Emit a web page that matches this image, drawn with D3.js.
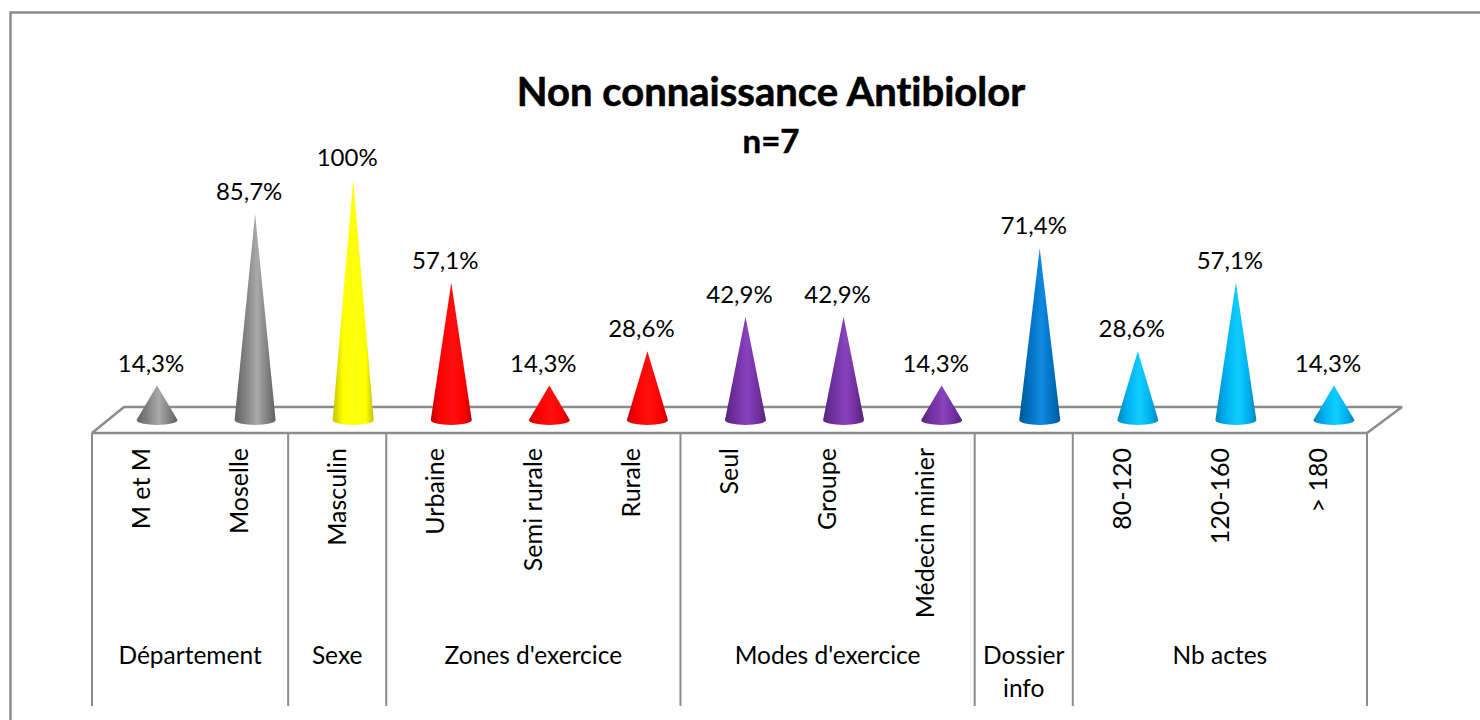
<!DOCTYPE html>
<html>
<head>
<meta charset="utf-8">
<script src="https://cdn.jsdelivr.net/npm/d3@7"></script>
<style>
html, body { margin: 0; padding: 0; background: #fff; overflow: hidden; }
text { font-family: Lato, "Open Sans", sans-serif; fill: #000; font-variant-ligatures: none; }
</style>
</head>
<body>
<div id="chart"></div>
<script>
// data
var categories = ["M et M","Moselle","Masculin","Urbaine","Semi rurale","Rurale","Seul","Groupe","Médecin minier","","80-120","120-160","> 180"];
var values = [14.3,85.7,100,57.1,14.3,28.6,42.9,42.9,14.3,71.4,28.6,57.1,14.3];
var valueLabels = ["14,3%","85,7%","100%","57,1%","14,3%","28,6%","42,9%","42,9%","14,3%","71,4%","28,6%","57,1%","14,3%"];
var groupNames = ["Département","Sexe","Zones d'exercice","Modes d'exercice","Dossier info","Nb actes"];
var groupSizes = [2,1,3,3,1,3];
var groupColors = ["#808080","#ffff00","#ff0000","#7030a0","#0070c0","#00b0f0"];

var width = 1480, height = 720;
var left = 92, right = 1367;
var floorFront = 433, floorBack = 407, base = 420;
var coneShift = 16, rx = 20.5, ry = 5;
var lineColor = "#8c8c8c";

var svg = d3.select("#chart").append("svg")
	.attr("width", width)
	.attr("height", height)
	.style("display", "block");

// outer frame, cut by the edge of the picture
svg.append("path")
	.attr("d", "M10.5,720V12.5H1480")
	.attr("fill", "none")
	.attr("stroke", lineColor)
	.attr("stroke-width", 2.5);

// scales
var x = d3.scaleBand().domain(d3.range(categories.length)).range([left, right]);
var y = d3.scaleLinear().domain([0, 100]).range([base, 179.5]);

// which group each bar belongs to
var barGroup = [];
groupSizes.forEach(function(n, g){
	d3.range(n).forEach(function(){ barGroup.push(g); });
});

// cone shading, one gradient per group
var defs = svg.append("defs");
groupColors.forEach(function(c, g){
	var grad = defs.append("linearGradient").attr("id", "cone" + g);
	var dark = d3.color(c).darker(0.75).formatHex();
	var light = g == 0 ? "#aaaaaa" : d3.interpolateRgb(d3.color(c).brighter(0.4).formatHex(), "#fff")(0.06);
	[[0, dark], [0.25, c], [0.55, light], [0.8, c], [1, dark]].forEach(function(s){
		grad.append("stop").attr("offset", s[0]).attr("stop-color", s[1]);
	});
});

// floor
svg.append("path")
	.attr("d", "M" + left + "," + floorFront + "L" + (left + 32) + "," + floorBack + "H" + (right + 35) + "L" + right + "," + floorFront + "Z")
	.attr("fill", "#fff")
	.attr("stroke", lineColor)
	.attr("stroke-linejoin", "bevel")
	.attr("stroke-width", 2.5);

// group separators
var edges = [0];
groupSizes.forEach(function(n, g){ edges.push(edges[g] + n); });
svg.append("g").selectAll("line")
	.data(edges)
	.enter().append("line")
	.attr("x1", function(d) { return left + d * x.step(); })
	.attr("x2", function(d) { return left + d * x.step(); })
	.attr("y1", floorFront)
	.attr("y2", 706)
	.attr("stroke", lineColor)
	.attr("stroke-width", 2);

// cones
svg.append("g").selectAll("path")
	.data(values)
	.enter().append("path")
	.attr("d", function(d, i) {
		var cx = x(i) + x.bandwidth() / 2 + coneShift;
		return "M" + (cx - rx) + "," + base + "L" + cx + "," + y(d) + "L" + (cx + rx) + "," + base +
			"A" + rx + "," + ry + " 0 0 1 " + (cx - rx) + "," + base + "Z";
	})
	.attr("fill", function(d, i) { return "url(#cone" + barGroup[i] + ")"; });

// value labels
svg.append("g").selectAll("text")
	.data(values)
	.enter().append("text")
	.attr("x", function(d, i) { return x(i) + x.bandwidth() / 2 + coneShift - 6; })
	.attr("y", function(d) { return y(d) - 14; })
	.style("text-anchor", "middle")
	.style("font-size", "24px")
	.text(function(d, i) { return valueLabels[i]; });

// category labels
var axis = svg.append("g")
	.attr("transform", "translate(0," + floorFront + ")")
	.call(d3.axisBottom(x).tickSize(0).tickFormat(function(i) { return categories[i]; }));
axis.select(".domain").remove();
axis.selectAll("text")
	.attr("transform", "rotate(-90)")
	.attr("x", -15)
	.attr("y", 0)
	.attr("dy", "0.35em")
	.style("text-anchor", "end")
	.style("font-size", "25px")
	.style("font-family", "Lato");

// group labels
var groupLabels = svg.append("g").selectAll("text")
	.data(groupNames)
	.enter().append("text")
	.attr("y", 664)
	.style("text-anchor", "middle")
	.style("font-size", "24.5px");
groupLabels.each(function(d, g){
	var mid = left + (edges[g] + edges[g + 1]) / 2 * x.step();
	var words = d == "Dossier info" ? d.split(" ") : [d];
	d3.select(this).selectAll("tspan")
		.data(words)
		.enter().append("tspan")
		.attr("x", mid)
		.attr("dy", function(w, k) { return k ? 33 : 0; })
		.text(function(w) { return w; });
});

// title
svg.append("text")
	.attr("x", 771)
	.attr("y", 106)
	.style("text-anchor", "middle")
	.style("font-size", "40px")
	.style("font-weight", "bold")
	.style("stroke", "#000")
	.style("stroke-width", 0.6)
	.text("Non connaissance Antibiolor");
svg.append("text")
	.attr("x", 771)
	.attr("y", 153)
	.style("text-anchor", "middle")
	.style("font-size", "33px")
	.style("font-weight", "bold")
	.style("stroke", "#000")
	.style("stroke-width", 0.5)
	.text("n=7");
</script>
</body>
</html>
